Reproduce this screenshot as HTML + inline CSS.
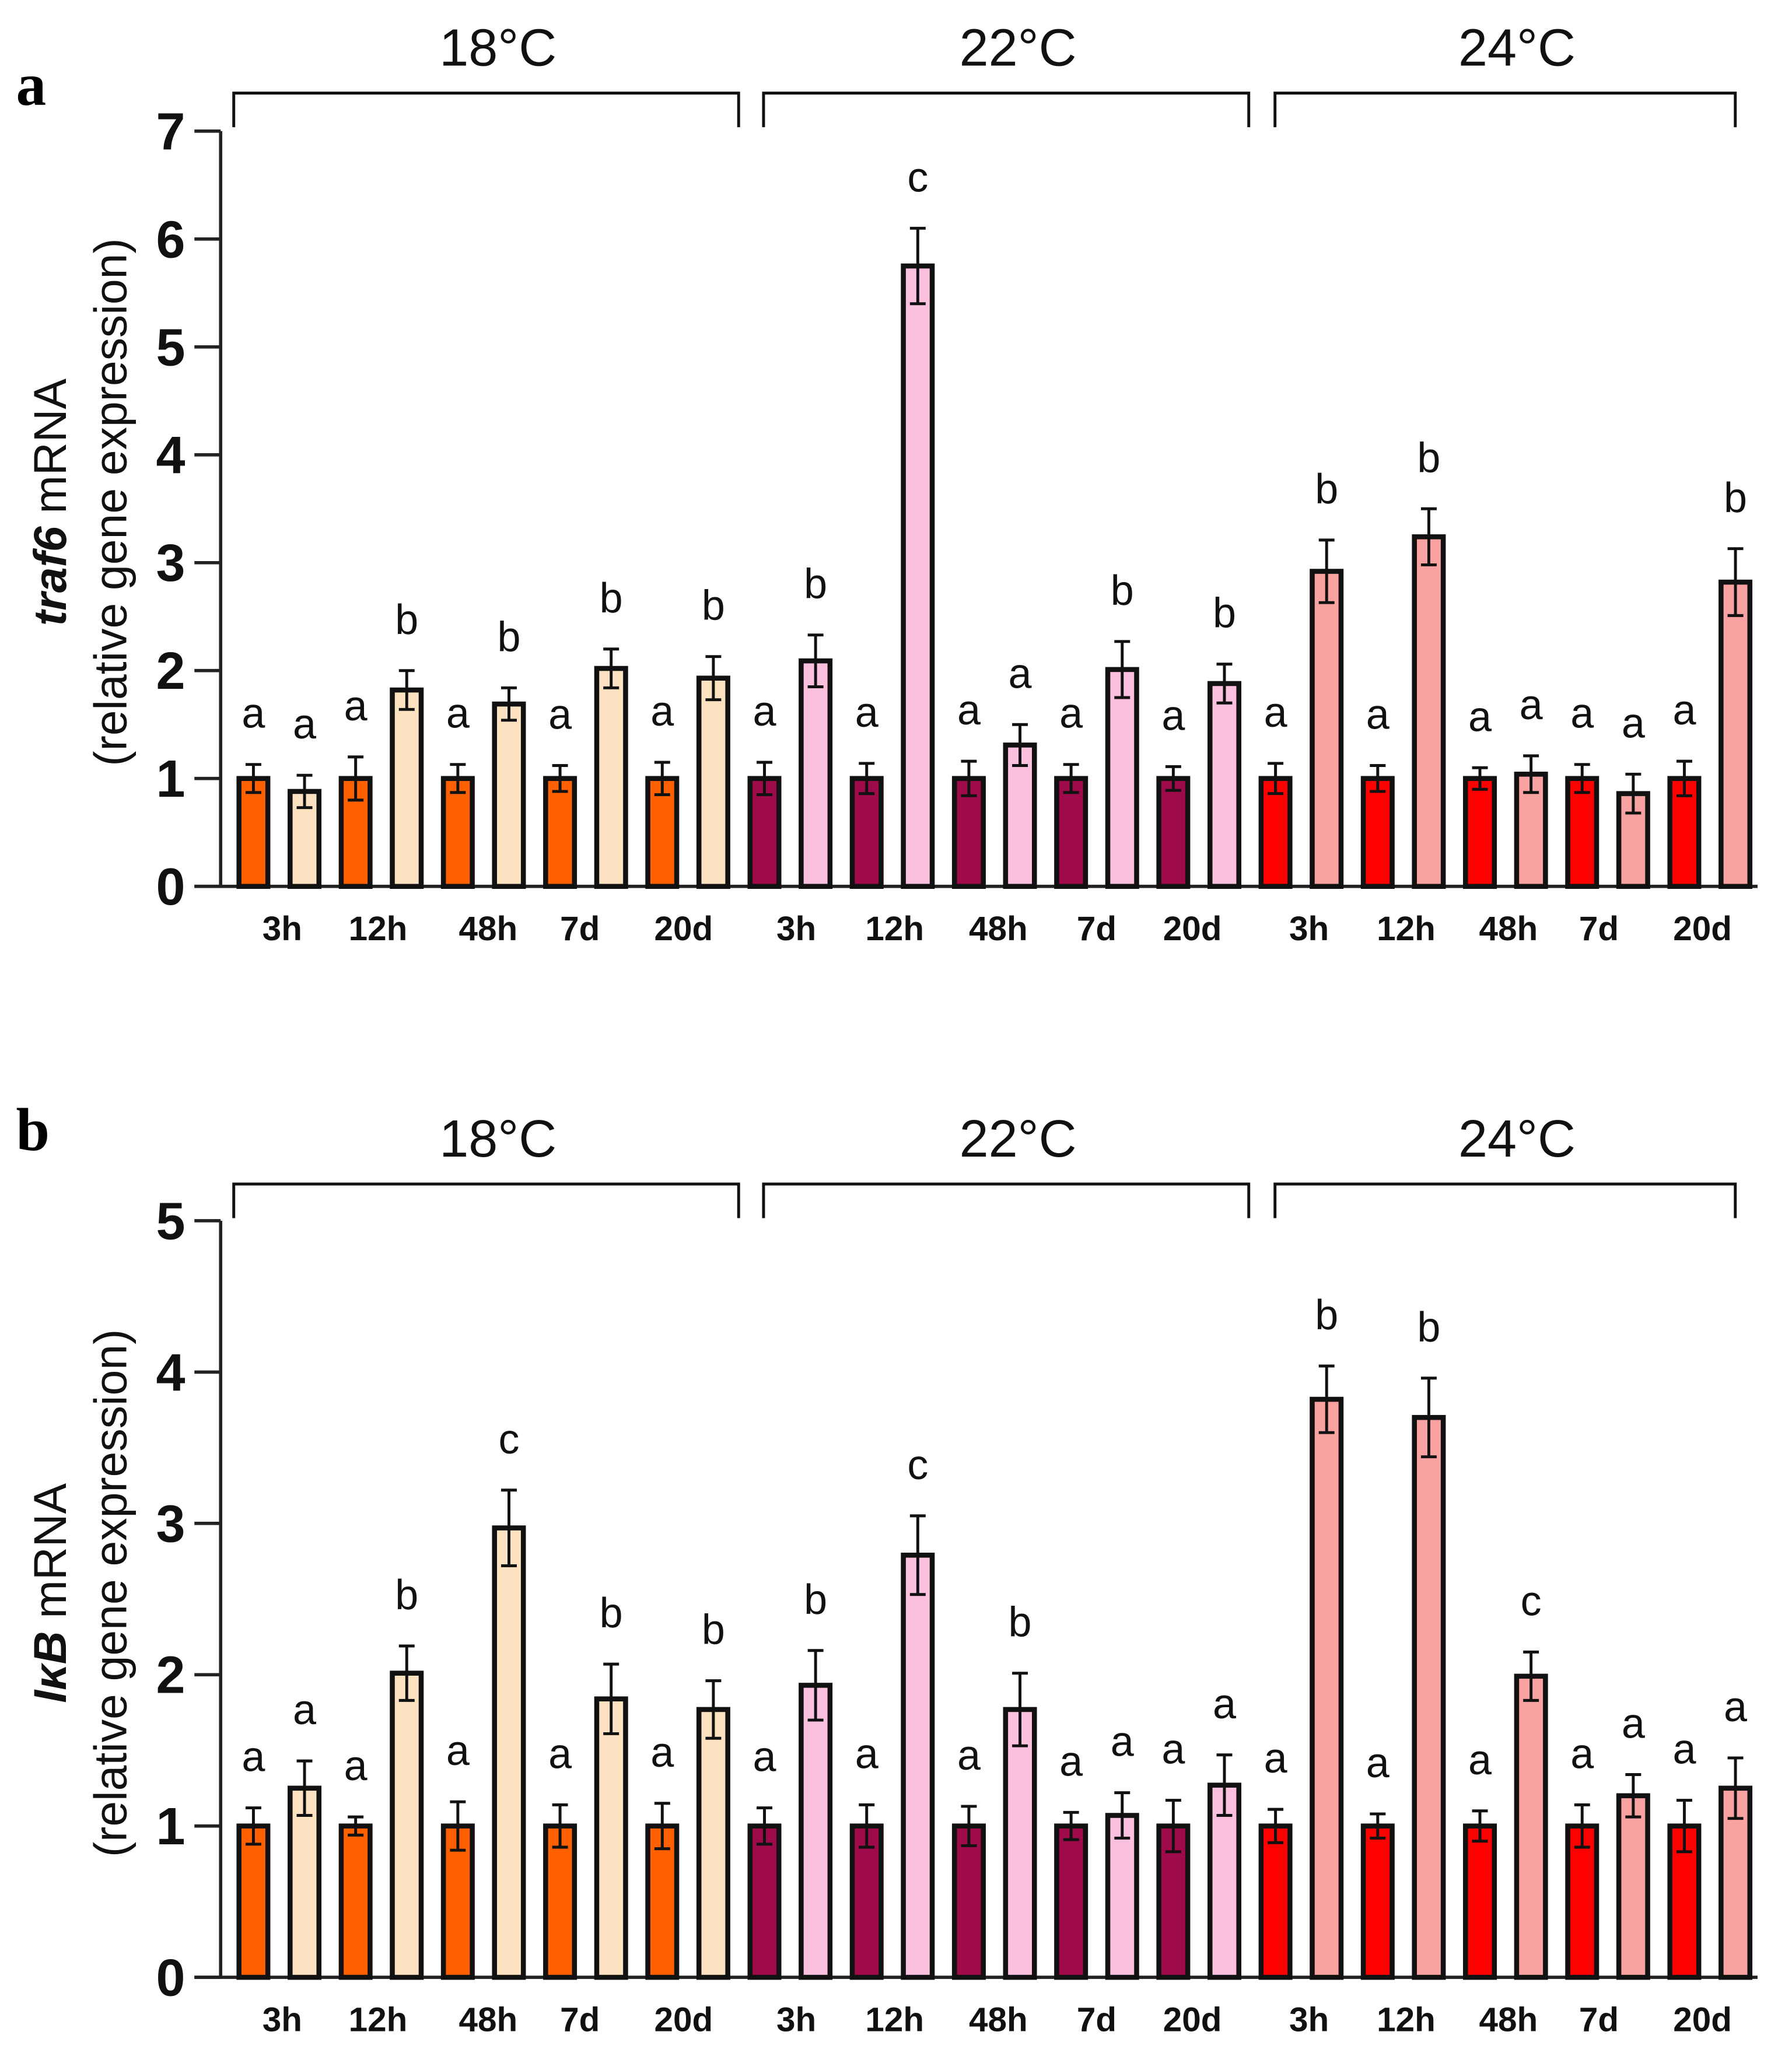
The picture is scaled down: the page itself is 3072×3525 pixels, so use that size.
<!DOCTYPE html>
<html><head><meta charset="utf-8"><style>
html,body{margin:0;padding:0;background:#fff}
svg{display:block}
text{font-family:"Liberation Sans",Arial,sans-serif}
text.serif{font-family:"Liberation Serif",serif}
</style></head><body>
<svg id="fig" width="3072" height="3525" viewBox="0 0 1366 1568" xmlns="http://www.w3.org/2000/svg"></svg>
<script>
// ---- data ----
const temps = ["18°C","22°C","24°C"];
const times = ["3h","12h","48h","7d","20d"];
const traf6Values = [1,0.88, 1,1.82, 1,1.69, 1,2.02, 1,1.93, 1,2.09, 1,5.75, 1,1.31, 1,2.01, 1,1.88, 1,2.92, 1,3.24, 1,1.04, 1,0.86, 1,2.82];
const traf6Errors = [0.13,0.15, 0.2,0.18, 0.13,0.15, 0.12,0.18, 0.15,0.2, 0.15,0.24, 0.14,0.35, 0.16,0.19, 0.13,0.26, 0.11,0.18, 0.14,0.29, 0.12,0.26, 0.1,0.17, 0.13,0.18, 0.16,0.31];
const traf6Letters = ["a","a","a","b","a","b","a","b","a","b","a","b","a","c","a","a","a","b","a","b","a","b","a","b","a","a","a","a","a","b"];
const ikbValues = [1,1.25, 1,2.01, 1,2.97, 1,1.84, 1,1.77, 1,1.93, 1,2.79, 1,1.77, 1,1.07, 1,1.27, 1,3.82, 1,3.70, 1,1.99, 1,1.20, 1,1.25];
const ikbErrors = [0.12,0.18, 0.06,0.18, 0.16,0.25, 0.14,0.23, 0.15,0.19, 0.12,0.23, 0.14,0.26, 0.13,0.24, 0.09,0.15, 0.17,0.2, 0.11,0.22, 0.08,0.26, 0.1,0.16, 0.14,0.14, 0.17,0.2];
const ikbLetters = ["a","a","a","b","a","c","a","b","a","b","a","b","a","c","a","b","a","a","a","a","a","b","a","b","a","c","a","a","a","a"];
const traf6Ticks = [0,1,2,3,4,5,6,7];
const ikbTicks = [0,1,2,3,4,5];
// ---- drawing ----
const NS="http://www.w3.org/2000/svg";
const svg=document.getElementById('fig');
const colors=[["#ff6000","#fde2c2"],["#9e0a4a","#fbc0de"],["#ff0000","#f8a2a2"]];
const labelX=[215,288,372,442,521,607,682,761,836,909,998,1072,1150,1219,1298];
function mk(tag,attrs,parent){const e=document.createElementNS(NS,tag);for(const k in attrs)e.setAttribute(k,attrs[k]);(parent||svg).appendChild(e);return e;}
function panel(opts){
  const g=mk('g',{});
  
  
  const maxV=opts.ticks[opts.ticks.length-1];
  const y=v=>opts.y0-(opts.y0-opts.yTop)*v/maxV;
  const x=i=>193+i*38.97;
  const pl=mk('text',{class:'serif',x:12,y:opts.letterY,'font-weight':'bold','font-size':46},g);
  pl.textContent=opts.letter;
  
  
  const br=[[178,563],[582,952],[972,1323]];
  br.forEach((b,k)=>{
    const p=mk('path',{d:`M${b[0]},${opts.brY+26}V${opts.brY}H${b[1]}V${opts.brY+26}`,fill:'none',stroke:'#111','stroke-width':2.2},g);
    
    
    const t=mk('text',{x:(b[0]+b[1])/2+9,y:opts.brY-21,'text-anchor':'middle','font-size':40,fill:'#111'},g);
    t.textContent=temps[k];
    
    
  });
  const ya=mk('line',{x1:168,y1:y(maxV),x2:168,y2:opts.y0,stroke:'#222','stroke-width':2.5},g);
  
  
  const xa=mk('line',{x1:148,y1:opts.y0,x2:1340,y2:opts.y0,stroke:'#222','stroke-width':2.5},g);
  
  
  opts.ticks.forEach(v=>{
    mk('line',{x1:148,y1:y(v),x2:168,y2:y(v),stroke:'#222','stroke-width':2.5},g);
    const t=mk('text',{x:141,y:y(v)+14,'text-anchor':'end','font-size':40,'font-weight':'bold',fill:'#111'},g);
    t.textContent=v;
    
    
  });
  const yt=mk('text',{transform:`translate(50,${opts.titleY}) rotate(-90)`,'text-anchor':'middle','font-size':35,fill:'#111'},g);
  yt.innerHTML=`<tspan font-style="italic" font-weight="bold">${opts.gene}</tspan> mRNA`;
  
  
  const yt2=mk('text',{transform:`translate(96,${opts.titleY}) rotate(-90)`,'text-anchor':'middle','font-size':35,fill:'#111'},g);
  yt2.textContent='(relative gene expression)';
  
  
  opts.values.forEach((v,i)=>{
    const grp=Math.floor(i/10), tr=i%2;
    const cx=x(i), w=22;
    const r=mk('rect',{x:cx-w/2,y:y(v),width:w,height:opts.y0-y(v),fill:colors[grp][tr],stroke:'#111','stroke-width':3.8},g);
    
    
    const e=opts.errors[i];
    const eb=mk('path',{d:`M${cx},${y(v-e)}V${y(v+e)}M${cx-6},${y(v-e)}H${cx+6}M${cx-6},${y(v+e)}H${cx+6}`,stroke:'#111','stroke-width':2.2,fill:'none'},g);
    
    
    const l=mk('text',{x:cx,y:y(v+e)-28,'text-anchor':'middle','font-size':32,fill:'#111'},g);
    l.textContent=opts.letters[i];
    
    
  });
  for(let k=0;k<15;k++){
    const t=mk('text',{x:labelX[k],y:opts.y0+41,'text-anchor':'middle','font-size':26,'font-weight':'bold',fill:'#111'},g);
    t.textContent=times[k%5];
    
    
  }
}
panel({name:'panel-a-traf6',letter:'a',letterY:80,brY:71,y0:676,yTop:100,ticks:traf6Ticks,values:traf6Values,errors:traf6Errors,letters:traf6Letters,gene:'traf6',titleY:383});
panel({name:'panel-b-ikb',letter:'b',letterY:877,brY:903,y0:1508,yTop:931,ticks:ikbTicks,values:ikbValues,errors:ikbErrors,letters:ikbLetters,gene:'IκB',titleY:1215});
</script>
</body></html>
